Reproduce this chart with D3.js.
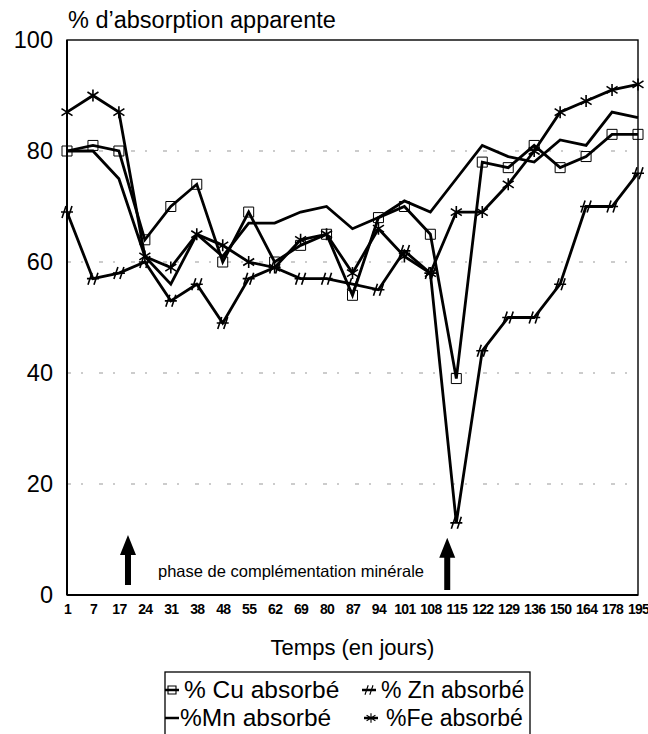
<!DOCTYPE html>
<html>
<head>
<meta charset="utf-8">
<script src="https://cdn.jsdelivr.net/npm/d3@7"></script>
<style>
  body { margin: 0; background: #fff; }
  text { font-family: "Liberation Sans", Arial, sans-serif; fill: #000; }
</style>
</head>
<body>
<svg id="drawing_region"></svg>
<script>
// days of measurement (x categories)
const days = ["1","7","17","24","31","38","48","55","62","69","80","87","94","101","108","115","122","129","136","150","164","178","195"];
const cu = [80,81,80,64,70,74,60,69,60,63,65,54,68,70,65,39,78,77,81,77,79,83,83];
const zn = [69,57,58,60,53,56,49,57,59,57,57,56,55,62,58,13,44,50,50,56,70,70,76];
const mn = [80,80,75,61,56,65,61,67,67,69,70,66,68,71,69,75,81,79,78,82,81,87,86];
const fe = [87,90,87,61,59,65,63,60,59,64,65,58,66,61,58,69,69,74,80,87,89,91,92];
const yTicks = [0,20,40,60,80,100];
const seriesNames = ["% Cu absorbé","% Zn absorbé","%Mn absorbé","%Fe absorbé"];
const seriesMarks = ["square","hash","none","star"];

const config = {
  width: 648, height: 734,
  margin: {top: 40, right: 10, bottom: 139, left: 67}
};

const svg = d3.select('#drawing_region')
  .attr('width', config.width)
  .attr('height', config.height);

const innerW = config.width - config.margin.left - config.margin.right;
const innerH = config.height - config.margin.top - config.margin.bottom;

const chart = svg.append('g')
  .attr('transform', `translate(${config.margin.left}, ${config.margin.top})`);

const xscale = d3.scalePoint().domain(days).range([0, innerW]);
const yscale = d3.scaleLinear().domain([0, 100]).range([innerH, 0]);

// broken grid lines
chart.append('g').selectAll('line')
  .data(yTicks.filter(d => d > 0 && d < 100))
  .join('line')
  .attr('x1', 0).attr('x2', innerW)
  .attr('y1', d => yscale(d)).attr('y2', d => yscale(d))
  .attr('stroke', '#999').attr('stroke-width', 1)
  .attr('stroke-dasharray', '4,10,2,16');

// frame
chart.append('rect')
  .attr('x', 0).attr('y', 0).attr('width', innerW).attr('height', innerH)
  .attr('fill', 'none').attr('stroke', '#000').attr('stroke-width', 1.4);
chart.append('line')
  .attr('x1', 0).attr('x2', 0).attr('y1', 0).attr('y2', innerH)
  .attr('stroke', '#000').attr('stroke-width', 2);
chart.append('line')
  .attr('x1', 0).attr('x2', innerW).attr('y1', innerH).attr('y2', innerH)
  .attr('stroke', '#000').attr('stroke-width', 2);

// axes
const yaxis = d3.axisLeft(yscale).tickValues(yTicks).tickSize(0).tickPadding(14);
const yg = chart.append('g').call(yaxis);
yg.select('.domain').remove();
yg.selectAll('text').attr('font-size', 23.5).style('font-family', '"Liberation Sans", Arial, sans-serif');

const xaxis = d3.axisBottom(xscale).tickSize(0).tickPadding(9);
const xg = chart.append('g').attr('transform', `translate(0, ${innerH})`).call(xaxis);
xg.select('.domain').remove();
xg.selectAll('text').attr('font-size', 14).attr('font-weight', 'bold')
  .attr('letter-spacing', -0.7)
  .style('font-family', '"Liberation Sans", Arial, sans-serif');

// markers
function markerPath(type) {
  if (type === 'square') return 'M-5,-5H5V5H-5Z';
  if (type === 'hash') return 'M-6,0H6M-5,6L-1,-6M1,6L5,-6';
  if (type === 'star') return 'M0,-6V6M-5.5,-3.5L5.5,3.5M-5.5,3.5L5.5,-3.5';
  return '';
}

const series = [cu, zn, mn, fe];
const line = d3.line()
  .x((d, i) => xscale(days[i]))
  .y(d => yscale(d));

series.forEach((values, k) => {
  chart.append('path')
    .datum(values)
    .attr('d', line)
    .attr('fill', 'none')
    .attr('stroke', '#000')
    .attr('stroke-width', 2.8)
    .attr('stroke-linejoin', 'miter');
});
series.forEach((values, k) => {
  if (seriesMarks[k] === 'none') return;
  chart.append('g').selectAll('path')
    .data(values)
    .join('path')
    .attr('transform', (d, i) => `translate(${xscale(days[i])}, ${yscale(d)})`)
    .attr('d', markerPath(seriesMarks[k]))
    .attr('fill', 'none')
    .attr('stroke', '#000')
    .attr('stroke-width', seriesMarks[k] === 'square' ? 1 : 1.6);
});

// arrows marking the mineral supplementation phase
const step = xscale.step();
const arrowX = [xscale("17") + 0.35 * step, xscale("115") - 0.35 * step];
const arrowTop = [yscale(10.8), yscale(10.3)];
arrowX.forEach((ax, i) => {
  const top = arrowTop[i];
  const bottom = yscale(i === 0 ? 1.8 : 0.9);
  chart.append('path')
    .attr('d', `M${ax},${top} L${ax + 8},${top + 20} L${ax + 3},${top + 20} L${ax + 3},${bottom} L${ax - 3},${bottom} L${ax - 3},${top + 20} L${ax - 8},${top + 20} Z`)
    .attr('fill', '#000');
});
chart.append('text')
  .attr('x', arrowX[0] + 30).attr('y', yscale(3.3))
  .attr('font-size', 16.5)
  .text('phase de complémentation minérale');

// titles
svg.append('text')
  .attr('x', config.margin.left + 1).attr('y', 28)
  .attr('font-size', 23.5)
  .text('% d’absorption apparente');

svg.append('text')
  .attr('x', config.margin.left + innerW / 2).attr('y', 655)
  .attr('text-anchor', 'middle')
  .attr('font-size', 22)
  .text('Temps (en jours)');

// legend
const legend = svg.append('g');
legend.append('rect')
  .attr('x', 165).attr('y', 672).attr('width', 365).attr('height', 80)
  .attr('fill', 'none').attr('stroke', '#000').attr('stroke-width', 1.3);

const legPos = [
  {sx: 172, tx: 184, y: 690, fs: 24.5},
  {sx: 369, tx: 381, y: 690, fs: 23},
  {sx: 172, tx: 180, y: 718, fs: 24.5},
  {sx: 371, tx: 386, y: 718, fs: 23}
];
seriesNames.forEach((name, k) => {
  const p = legPos[k];
  legend.append('line')
    .attr('x1', p.sx - 7).attr('x2', p.sx + 7)
    .attr('y1', p.y).attr('y2', p.y)
    .attr('stroke', '#000').attr('stroke-width', 2.5);
  if (seriesMarks[k] !== 'none') {
    legend.append('path')
      .attr('transform', `translate(${p.sx}, ${p.y}) scale(0.8)`)
      .attr('d', markerPath(seriesMarks[k]))
      .attr('fill', 'none').attr('stroke', '#000').attr('stroke-width', 1.4);
  }
  legend.append('text')
    .attr('x', p.tx).attr('y', p.y + 8)
    .attr('font-size', p.fs)
    .text(name);
});
</script>
</body>
</html>
